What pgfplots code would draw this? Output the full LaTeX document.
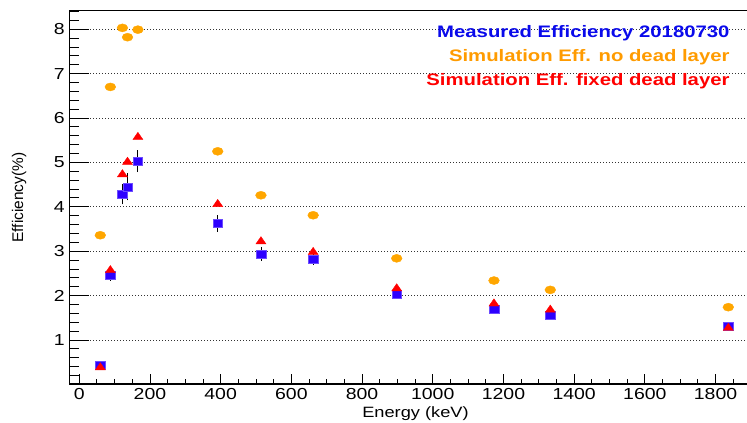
\documentclass[border=0pt]{standalone}
\usepackage{fontspec}
\setmainfont{Liberation Sans}[FakeStretch=1.22]
\newfontfamily\plainsans{Liberation Sans}
\usepackage{pgfplots}
\pgfplotsset{compat=1.18}
\definecolor{meas}{RGB}{45,0,255}
\definecolor{simorange}{RGB}{255,166,0}
\definecolor{simred}{RGB}{255,0,0}
\definecolor{legblue}{RGB}{10,10,235}
\definecolor{legorange}{RGB}{255,155,0}

\pgfplotsset{
  effbox/.style={
    at={(69bp,39bp)}, anchor=south west,
    scale only axis, width=678bp, height=373bp,
    xmin=-29, xmax=1889, ymin=0.01, ymax=8.41,
    tick align=inside, tick pos=left,
    axis line style={black, line width=1bp},
    every tick/.style={black, line width=0.9bp},
  },
}

\begin{document}
\begin{tikzpicture}
\path[use as bounding box] (0,0) rectangle (747bp,423bp);
\begin{axis}[
  effbox,
  /pgf/number format/assume math mode=true,
  /pgf/number format/1000 sep={},
  scaled x ticks=false,
  xtick={0,200,...,1800},
  minor xtick={50,100,...,1850},
  ytick={1,...,8},
  major tick length=10bp, minor tick length=5bp,
  ymajorgrids=true,
  major grid style={black!80, line width=0.9bp, dash pattern=on 1bp off 2bp},
  xticklabel style={font=\fontsize{16}{16}\selectfont, inner sep=0pt, yshift=-4bp},
  yticklabel style={font=\fontsize{16}{16}\selectfont, inner sep=0pt, xshift=-4bp},
  xlabel={Energy (keV)},
  xlabel style={font=\fontsize{15}{15}\selectfont, at={(axis description cs:0.511,-0.0804)}, anchor=center},
  ylabel={Efficiency(\%)},
  ylabel style={font=\plainsans\fontsize{15.5}{15.5}\selectfont, at={(axis description cs:-0.0737,0.5)}, anchor=center},
  error bars/error bar style={black, line width=0.8bp},
  error bars/error mark options={black, mark size=1.6bp, line width=0.8bp},
]
% simulation, no dead layer
\addplot[only marks, mark=*, mark size=4bp,
  mark options={fill=simorange, draw=simorange, xscale=1.35}]
  coordinates {
  (59.5,3.36) (88.0,6.70) (122.1,8.03) (136.5,7.82) (165.9,7.99)
  (391.7,5.25) (514.0,4.26) (661.7,3.81) (898.0,2.84)
  (1173.2,2.34) (1332.5,2.13) (1836.1,1.74)
  };
% measured efficiency 20180730
\addplot[only marks, mark=square*, mark size=4bp,
  mark options={fill=meas, draw=meas!70!white, xscale=1.2},
  error bars/.cd, y dir=both, y explicit]
  coordinates {
  (59.5,0.43) +- (0,0.03)
  (88.0,2.46) +- (0,0.09)
  (122.1,4.28) +- (0,0.19)
  (136.5,4.45) +- (0,0.27)
  (165.9,5.03) +- (0,0.21)
  (391.7,3.62) +- (0,0.15)
  (514.0,2.94) +- (0,0.12)
  (661.7,2.82) +- (0,0.09)
  (898.0,2.04) +- (0,0.05)
  (1173.2,1.70) +- (0,0.04)
  (1332.5,1.56) +- (0,0.04)
  (1836.1,1.32) +- (0,0.04)
  };
% simulation, fixed dead layer
\addplot[only marks, mark=triangle*, mark size=4.8bp,
  mark options={fill=simred, draw=simred, xscale=1.2}]
  coordinates {
  (59.5,0.38) (88.0,2.57) (122.1,4.73) (136.5,5.01) (165.9,5.57)
  (391.7,4.06) (514.0,3.22) (661.7,2.98) (898.0,2.16)
  (1173.2,1.82) (1332.5,1.68) (1836.1,1.27)
  };
\end{axis}
% long y ticks on top, no labels
\begin{axis}[
  effbox,
  xtick=\empty,
  ytick={1,...,8},
  minor ytick={0.2,0.4,...,8.4},
  yticklabels={},
  major tick length=20bp, minor tick length=10bp,
]
\end{axis}
\node[anchor=base east, font=\bfseries\fontsize{16.7}{16.7}\selectfont, text=legblue]
  at (733bp,385.3bp) {Measured Efficiency 20180730};
\node[anchor=base east, font=\bfseries\fontsize{16.7}{16.7}\selectfont, text=legorange]
  at (733bp,361bp) {Simulation Eff. no dead layer};
\node[anchor=base east, font=\bfseries\fontsize{16.7}{16.7}\selectfont, text=simred]
  at (733bp,337bp) {Simulation Eff. fixed dead layer};
\end{tikzpicture}
\end{document}
